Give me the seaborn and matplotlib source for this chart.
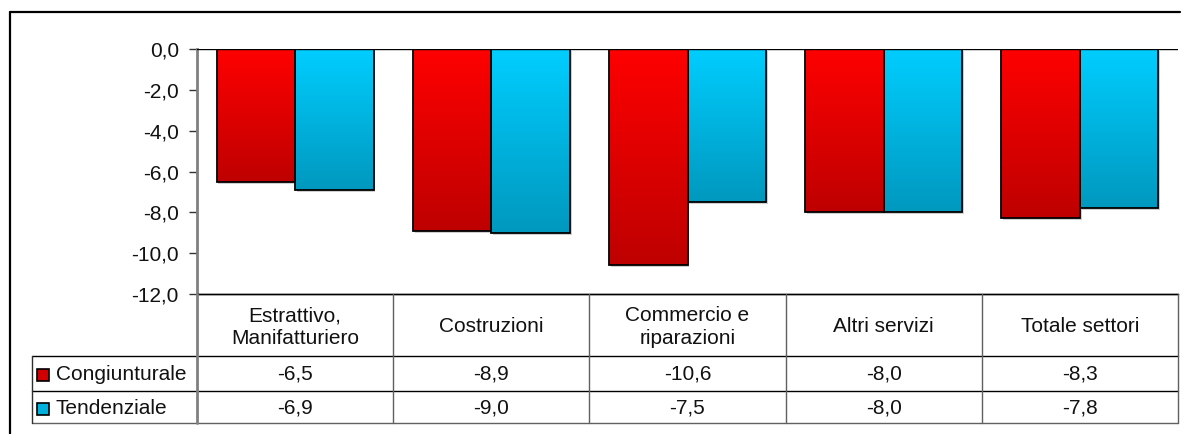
import numpy as np
import pandas as pd
import matplotlib
matplotlib.use("Agg")
import matplotlib.pyplot as plt
from matplotlib.lines import Line2D
from matplotlib.patches import Rectangle
from matplotlib.ticker import FuncFormatter
import seaborn as sns

# ---- data ----
categories = ["Estrattivo,\nManifatturiero", "Costruzioni", "Commercio e\nriparazioni",
              "Altri servizi", "Totale settori"]
series_names = ["Congiunturale", "Tendenziale"]
congiunturale = [-6.5, -8.9, -10.6, -8.0, -8.3]
tendenziale = [-6.9, -9.0, -7.5, -8.0, -7.8]
y_ticks = [0, -2, -4, -6, -8, -10, -12]

df = pd.DataFrame({
    "settore": categories * 2,
    "serie": [series_names[0]] * len(categories) + [series_names[1]] * len(categories),
    "valore": congiunturale + tendenziale,
})

sns.set_theme(style="white")
plt.rcParams["font.family"] = ["Liberation Sans", "DejaVu Sans"]
FS = 15

W, H = 1184, 434
fig = plt.figure(figsize=(W / 100, H / 100), dpi=100)
fig.patch.set_facecolor("white")

def fx(x):
    return x / W

def fy(y):
    return 1 - y / H

ax_l, ax_r, ax_t, ax_b = 197, 1178, 49, 294
ax = fig.add_axes([fx(ax_l), fy(ax_b), fx(ax_r) - fx(ax_l), fy(ax_t) - fy(ax_b)])

red_top, red_bot = np.array([255, 0, 0]) / 255, np.array([190, 0, 0]) / 255
cy_top, cy_bot = np.array([0, 206, 255]) / 255, np.array([0, 152, 190]) / 255

sns.barplot(data=df, x="settore", y="valore", hue="serie", order=categories,
            hue_order=series_names, palette=["#E00000", "#00B4E0"], width=0.8,
            edgecolor="black", linewidth=1.3, legend=False, ax=ax, errorbar=None)

ax.set_xlim(-0.5, len(categories) - 0.5)
ax.set_ylim(-12, 0)

# gradient fill for each bar
bars = [p for p in ax.patches if abs(p.get_width()) > 0]
for p in bars:
    fc = p.get_facecolor()
    is_red = fc[0] > 0.5
    top, bot = (red_top, red_bot) if is_red else (cy_top, cy_bot)
    n = 256
    t = np.linspace(0, 1, n)[:, None]
    grad = (top[None, :] * (1 - t) + bot[None, :] * t)[:, None, :]
    x0 = p.get_x()
    x1 = x0 + p.get_width()
    y0 = p.get_y()
    y1 = y0 + p.get_height()
    ytop, ybot = max(y0, y1), min(y0, y1)
    # subtle shadow
    sh = Rectangle((x0 + 0.009, ybot - 0.09), x1 - x0, ytop - ybot, facecolor="#cfcfcf",
                   edgecolor="none", zorder=1.5)
    ax.add_patch(sh)
    im = ax.imshow(grad, extent=(x0, x1, ybot, ytop), origin="upper", aspect="auto",
                   zorder=2, interpolation="bilinear")
    im.set_clip_path(p)
    p.set_facecolor("none")
    p.set_zorder(3)

ax.set_xlim(-0.5, len(categories) - 0.5)
ax.set_ylim(-12, 0)
ax.set_aspect("auto")

ax.axhline(0, color="black", lw=1.0, zorder=4)
ax.set_yticks(y_ticks)
ax.yaxis.set_major_formatter(FuncFormatter(lambda v, _: f"{v:.1f}".replace(".", ",")))
ax.tick_params(axis="y", which="major", left=True, length=6, width=1, color="#333333",
               labelsize=FS, pad=7, labelcolor="#111111")
ax.set_xticks([])
ax.set_xlabel("")
ax.set_ylabel("")
for s in ["top", "right"]:
    ax.spines[s].set_visible(False)
ax.spines["left"].set_color("#808080")
ax.spines["left"].set_linewidth(2)
ax.spines["bottom"].set_color("black")
ax.spines["bottom"].set_linewidth(1)

# ---- outer chart frame ----
def line(x0, y0, x1, y1, color="black", lw=1.0):
    fig.add_artist(Line2D([fx(x0), fx(x1)], [fy(y0), fy(y1)], color=color, lw=lw,
                          transform=fig.transFigure))

line(10, 12, 1180, 12, lw=1.6)
line(10, 12, 10, 434, lw=1.6)

# ---- data table ----
col_w = (ax_r - ax_l) / len(categories)
col_edges = [ax_l + i * col_w for i in range(len(categories) + 1)]
tab_left = 32

line(ax_l, 294, ax_r, 294)
line(tab_left, 356, ax_r, 356)
line(tab_left, 391, ax_r, 391)
line(tab_left, 423, ax_r, 423, color="#606060")
line(ax_l, 294, ax_l, 423, color="#808080", lw=2)
for xe in col_edges[1:]:
    line(xe, 294, xe, 423, color="#606060")
line(tab_left, 356, tab_left, 423, color="#303030")

for i, cat in enumerate(categories):
    cx = (col_edges[i] + col_edges[i + 1]) / 2
    fig.text(fx(cx), fy(327), cat, ha="center", va="center", fontsize=FS,
             color="#111111", linespacing=1.25)
    fig.text(fx(cx), fy(374.5), f"{congiunturale[i]:.1f}".replace(".", ","), ha="center",
             va="center", fontsize=FS, color="#111111")
    fig.text(fx(cx), fy(408.5), f"{tendenziale[i]:.1f}".replace(".", ","), ha="center",
             va="center", fontsize=FS, color="#111111")

# legend keys inside table
for (name, yc, col) in [(series_names[0], 374.5, "#D00000"), (series_names[1], 408.5, "#00B0DD")]:
    fig.add_artist(Rectangle((fx(37), fy(yc + 6)), 12 / W, 12 / H, facecolor=col,
                             edgecolor="black", lw=1.2, transform=fig.transFigure))
    fig.text(fx(56), fy(yc), name, ha="left", va="center", fontsize=FS, color="#111111")

fig.savefig("out.png", dpi=100)
